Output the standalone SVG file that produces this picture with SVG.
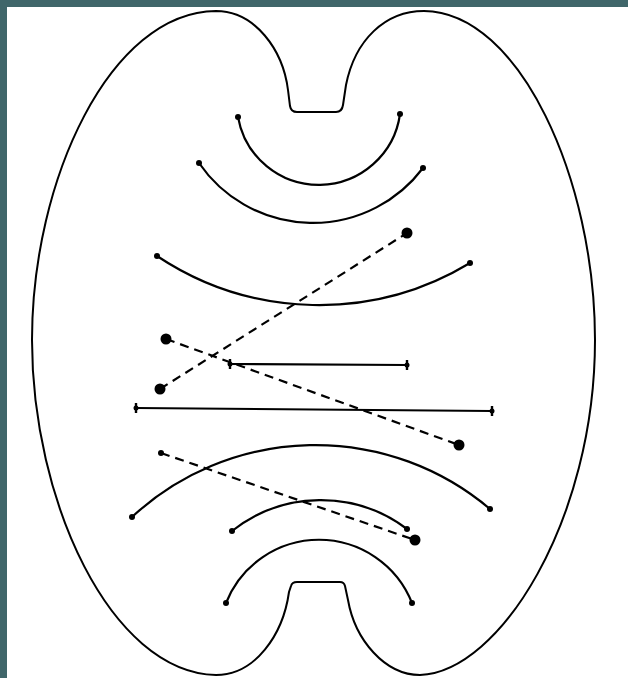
<svg xmlns="http://www.w3.org/2000/svg" width="628" height="678" viewBox="0 0 628 678">
  <style>
    .ln { fill: none; stroke: #000; stroke-width: 2.2; stroke-linecap: round; }
    .dash { fill: none; stroke: #000; stroke-width: 2.2; stroke-dasharray: 9 6; }
    .outline { fill: #fff; stroke: #000; stroke-width: 2; }
  </style>
  <defs>
    <marker id="dot" markerUnits="userSpaceOnUse" markerWidth="10" markerHeight="10" refX="5" refY="5" viewBox="0 0 10 10">
      <circle cx="5" cy="5" r="3" fill="#000"/>
    </marker>
    <marker id="bigdot" markerUnits="userSpaceOnUse" markerWidth="14" markerHeight="14" refX="7" refY="7" viewBox="0 0 14 14">
      <circle cx="7" cy="7" r="5.5" fill="#000"/>
    </marker>
    <marker id="tick" markerUnits="userSpaceOnUse" markerWidth="12" markerHeight="14" refX="6" refY="7" viewBox="0 0 12 14">
      <line x1="6" y1="2" x2="6" y2="12" stroke="#000" stroke-width="2.4"/>
      <circle cx="6" cy="7" r="2.5" fill="#000"/>
    </marker>
  </defs>
  <rect x="0" y="0" width="628" height="678" fill="#40666a"/>
  <rect x="7" y="7" width="621" height="671" fill="#fff"/>
  <g id="cell">
    <path class="outline" d="M216,11 C110,12 32,180 32,340 C32,500 110,672 216,675 C255,675 283,635 289,592 L291,586 Q292,582 297,582 L340,582 Q344,582 345,586 L348,600 C355,640 385,675 420,675 C500,672 595,520 595,340 C595,180 520,12 424,11 C385,11 355,40 346,85 L343,105 Q342,112 336,112 L297,112 Q291,112 290,106 L288,90 C283,50 255,11 216,11 Z"/>
  </g>
  <g id="arcs">
    <path class="ln" marker-start="url(#dot)" marker-end="url(#dot)" d="M238,117 A82,82 0 0 0 400,114"/>
    <path class="ln" marker-start="url(#dot)" marker-end="url(#dot)" d="M199,163 A138,138 0 0 0 423,168"/>
    <path class="ln" marker-start="url(#dot)" marker-end="url(#dot)" d="M157,256 A292,292 0 0 0 470,263"/>
    <path class="ln" marker-start="url(#dot)" marker-end="url(#dot)" d="M132,517 A270,270 0 0 1 490,509"/>
    <path class="ln" marker-start="url(#dot)" marker-end="url(#dot)" d="M232,531 A143,143 0 0 1 407,529"/>
    <path class="ln" marker-start="url(#dot)" marker-end="url(#dot)" d="M226,603 A100,100 0 0 1 412,603"/>
  </g>
  <g id="lines">
    <line class="ln" x1="230" y1="364" x2="407" y2="365" marker-start="url(#tick)" marker-end="url(#tick)"/>
    <line class="ln" x1="136" y1="408" x2="492" y2="411" marker-start="url(#tick)" marker-end="url(#tick)"/>
  </g>
  <g id="dashed">
    <line class="dash" x1="160" y1="389" x2="407" y2="233" marker-start="url(#bigdot)" marker-end="url(#bigdot)"/>
    <line class="dash" x1="166" y1="339" x2="459" y2="445" marker-start="url(#bigdot)" marker-end="url(#bigdot)"/>
    <line class="dash" x1="161" y1="453" x2="415" y2="540" marker-start="url(#dot)" marker-end="url(#bigdot)"/>
  </g>
</svg>
